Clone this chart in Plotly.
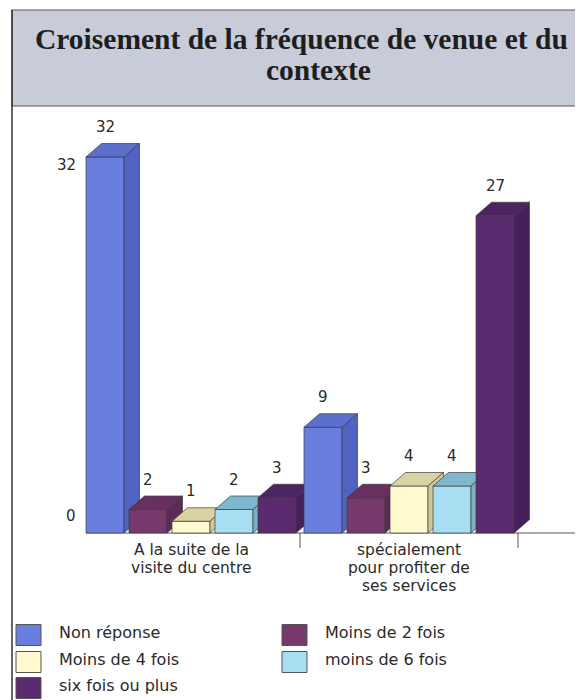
import plotly.graph_objects as go

# ---------------- data ----------------
categories = ["A la suite de la<br>visite du centre",
              "spécialement<br>pour profiter de<br>ses services"]
series_names = ["Non réponse", "Moins de 2 fois", "Moins de 4 fois",
                "moins de 6 fois", "six fois ou plus"]
non_reponse = [32, 9]
moins_2_fois = [2, 3]
moins_4_fois = [1, 4]
moins_6_fois = [2, 4]
six_fois_plus = [3, 27]
y_tick_values = [0, 32]
title_lines = ["Croisement de la fréquence de venue et du", "contexte"]

series_values = [non_reponse, moins_2_fois, moins_4_fois, moins_6_fois, six_fois_plus]

# ---------------- styles ----------------
front_colors = ["#6a7ee0", "#77396b", "#fffad0", "#a8def2", "#5a2b6e"]
top_colors = ["#5c6fce", "#68305e", "#d9d3a4", "#7fb7cf", "#4c245f"]
side_colors = ["#5163c0", "#5c2a54", "#cfc99a", "#78b0c8", "#45205a"]
edge_color = "#3c3c3c"
text_color = "#2a2a2a"
SANS = "DejaVu Sans, Verdana, sans-serif"
SERIF = "Liberation Serif, Times New Roman, serif"

# the page body has an 8px margin: geometry below is in window pixels
OFF = 8
WIN_W, WIN_H = 583, 700
W, H = WIN_W - OFF, WIN_H - OFF
RIGHT, BOTTOM = OFF + W, OFF + H

X0_PX = 191.0     # window pixel of the first category centre
CAT_PX = 218.0    # pixels per category
Y0_PX = 533.0     # window pixel of value 0
UNIT_PX = 11.75   # pixels per unit of value

x_range = [(OFF - X0_PX) / CAT_PX, (RIGHT - X0_PX) / CAT_PX]
y_range = [(Y0_PX - BOTTOM) / UNIT_PX, (Y0_PX - OFF) / UNIT_PX]


def px(p):
    return (p - OFF) / W


def py(p):
    return 1 - (p - OFF) / H


SLOT = 43.0 / CAT_PX
BAR_W = 38.0 / CAT_PX
DX = 15.5 / CAT_PX
DY = 13.5 / UNIT_PX

fig = go.Figure()

annotations = []
n_series = len(series_values)
for ci, cat in enumerate(categories):
    for si in range(n_series):
        v = series_values[si][ci]
        xc = ci + (si - (n_series - 1) / 2) * SLOT
        x0, x1 = xc - BAR_W / 2, xc + BAR_W / 2
        faces = [
            ([x0, x1, x1, x0, x0], [0, 0, v, v, 0], front_colors[si]),
            ([x0, x1, x1 + DX, x0 + DX, x0], [v, v, v + DY, v + DY, v], top_colors[si]),
            ([x1, x1 + DX, x1 + DX, x1, x1], [0, DY, v + DY, v, 0], side_colors[si]),
        ]
        for fx, fy, col in faces:
            fig.add_trace(go.Scatter(
                x=fx, y=fy, mode="lines", fill="toself", fillcolor=col,
                line=dict(color=edge_color, width=0.7),
                name=series_names[si], showlegend=False, hoverinfo="skip"))
        annotations.append(dict(
            x=xc, y=v, xref="x", yref="y", text=str(v), showarrow=False,
            xanchor="center", yanchor="middle", yshift=30,
            font=dict(family=SANS, size=15, color=text_color)))
    # category label, one line at a time
    for k, line in enumerate(cat.split("<br>")):
        annotations.append(dict(
            x=ci, y=0, xref="x", yref="y", text=line, showarrow=False,
            xanchor="center", yanchor="middle", yshift=-(17 + 18 * k),
            font=dict(family=SANS, size=15.5, color=text_color)))

# value axis labels (drawn at the back wall of the 3-D plot)
tick_shifts = {0: 17, 32: -8}
for tv in y_tick_values:
    annotations.append(dict(
        x=(78 - X0_PX) / CAT_PX, y=tv, xref="x", yref="y", text=str(tv), showarrow=False,
        xanchor="right", yanchor="middle", yshift=tick_shifts.get(tv, 0),
        font=dict(family=SANS, size=15, color=text_color)))

# title
annotations.append(dict(x=px(301), y=py(39), xref="paper", yref="paper",
                        text="<b>%s</b>" % title_lines[0], showarrow=False,
                        xanchor="center", yanchor="middle",
                        font=dict(family=SERIF, size=29.5, color="#1e1e1e")))
annotations.append(dict(x=px(318), y=py(70), xref="paper", yref="paper",
                        text="<b>%s</b>" % title_lines[1], showarrow=False,
                        xanchor="center", yanchor="middle",
                        font=dict(family=SERIF, size=29.5, color="#1e1e1e")))

shapes = []
# title box
shapes.append(dict(type="rect", xref="paper", yref="paper",
                   x0=px(12), x1=px(RIGHT + 5), y0=py(106), y1=py(10),
                   fillcolor="#c8cbd8", line=dict(color="#5a5a5a", width=1.2), layer="below"))
# outer frame left line
shapes.append(dict(type="line", xref="paper", yref="paper",
                   x0=px(12), x1=px(12), y0=py(BOTTOM), y1=py(10),
                   line=dict(color="#333333", width=1.5)))
# baseline
first_left = 0 - (n_series - 1) / 2 * SLOT - BAR_W / 2
shapes.append(dict(type="line", xref="x", yref="y", x0=first_left, x1=x_range[1],
                   y0=0, y1=0, line=dict(color="#555555", width=1), layer="below"))
# category dividers
for k in range(len(categories)):
    shapes.append(dict(type="line", xref="x", yref="y", x0=k + 0.5, x1=k + 0.5,
                       y0=0, y1=-15 / UNIT_PX, line=dict(color="#555555", width=1)))

# legend (two columns)
col_px = [16, 282]
row_px = [635, 662, 688]
for i, name in enumerate(series_names):
    cx = col_px[i % 2]
    cy = row_px[i // 2]
    shapes.append(dict(type="rect", xref="paper", yref="paper",
                       x0=px(cx), x1=px(cx + 25),
                       y0=py(cy + 10.5), y1=py(cy - 10.5),
                       fillcolor=front_colors[i], line=dict(color="#555555", width=1)))
    annotations.append(dict(x=px(cx + 41), y=py(cy - 3), xref="paper", yref="paper",
                            text=name, showarrow=False, xanchor="left", yanchor="middle",
                            font=dict(family=SANS, size=16, color=text_color)))

fig.update_layout(
    width=W, height=H, autosize=False,
    margin=dict(l=0, r=0, t=0, b=0, pad=0),
    paper_bgcolor="white", plot_bgcolor="white",
    xaxis=dict(range=x_range, visible=False, fixedrange=True),
    yaxis=dict(range=y_range, visible=False, fixedrange=True),
    showlegend=False,
    shapes=shapes, annotations=annotations,
)

fig.write_html("out.html")
